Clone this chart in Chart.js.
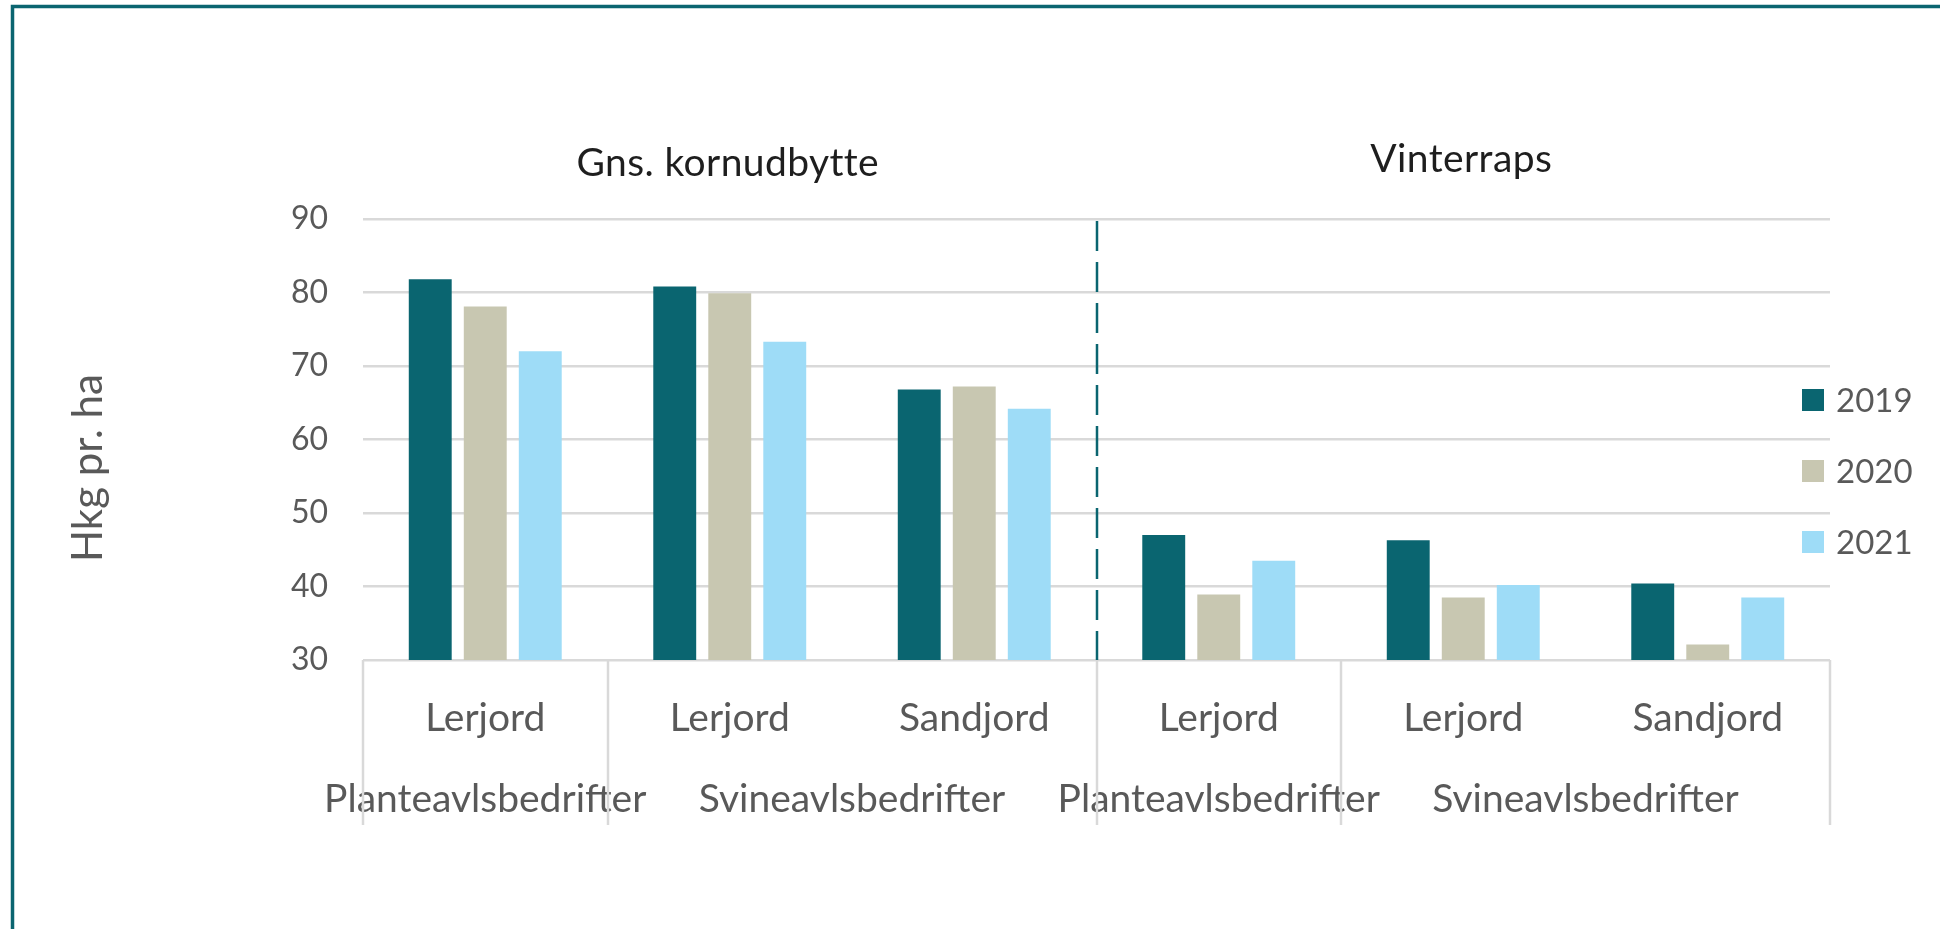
<!DOCTYPE html>
<html>
<head>
<meta charset="utf-8">
<title>Hkg pr. ha</title>
<script src="https://cdn.jsdelivr.net/npm/chart.js@4"></script>
<style>
  html, body { margin: 0; padding: 0; background: #fff; }
  canvas { display: block; }
</style>
</head>
<body>
<canvas id="chart" width="1940" height="929"></canvas>
<script>
// --- DATA ---
const soilLabels = ['Lerjord', 'Lerjord', 'Sandjord', 'Lerjord', 'Lerjord', 'Sandjord'];
const farmLabels = ['Planteavlsbedrifter', 'Svineavlsbedrifter', 'Planteavlsbedrifter', 'Svineavlsbedrifter'];
const farmSpans = [1, 2, 1, 2];          // categories under each farm label
const sectionTitles = ['Gns. kornudbytte', 'Vinterraps'];
const sectionSpans = [3, 3];
const years = ['2019', '2020', '2021'];
const yield2019 = [81.8, 80.8, 66.8, 47.0, 46.3, 40.4];
const yield2020 = [78.1, 79.9, 67.2, 38.9, 38.5, 32.1];
const yield2021 = [72.0, 73.3, 64.2, 43.5, 40.2, 38.5];
const yMin = 30, yMax = 90, yStep = 10;
const yTitle = 'Hkg pr. ha';

// --- STYLE ---
const TEAL = '#0a6570';
const colors = [TEAL, '#c8c7b1', '#9edcf7'];
const GRID = '#d9d9d9';
const TEXT = '#595959';
const FONT = 'Lato';

// centres of the farm groups, in category units
const farmCenters = [];
let acc = 0;
farmSpans.forEach(n => { farmCenters.push(acc + (n - 1) / 2); acc += n; });

// boundaries where the divider lines go
const boundaries = [-0.5];
acc = -0.5;
farmSpans.forEach(n => { acc += n; boundaries.push(acc); });

const decorations = {
    id: 'decorations',
    afterDraw(chart) {
        const ctx = chart.ctx;
        const x = chart.scales.x2;
        const area = chart.chartArea;
        ctx.save();

        // frame (top + left edge)
        ctx.strokeStyle = '#0b6570';
        ctx.lineWidth = 3.5;
        ctx.beginPath();
        ctx.moveTo(12.5, 929);
        ctx.lineTo(12.5, 6.5);
        ctx.lineTo(1940, 6.5);
        ctx.stroke();

        // group dividers under the axis
        ctx.strokeStyle = GRID;
        ctx.lineWidth = 2.5;
        boundaries.forEach(b => {
            const px = Math.round(x.getPixelForValue(b));
            ctx.beginPath();
            ctx.moveTo(px, area.bottom);
            ctx.lineTo(px, 825);
            ctx.stroke();
        });

        // dashed separator between sections
        let s = -0.5;
        ctx.strokeStyle = TEAL;
        ctx.lineWidth = 2.5;
        ctx.setLineDash([30, 11]);
        sectionSpans.slice(0, -1).forEach(n => {
            s += n;
            const px = Math.round(x.getPixelForValue(s));
            ctx.beginPath();
            ctx.moveTo(px, area.top + 2);
            ctx.lineTo(px, area.bottom);
            ctx.stroke();
        });
        ctx.setLineDash([]);

        // section titles
        ctx.fillStyle = '#1e1e1e';
        ctx.font = `39px ${FONT}`;
        ctx.letterSpacing = '0.4px';
        ctx.textAlign = 'center';
        ctx.textBaseline = 'alphabetic';
        const titleBase = [176, 172];
        s = -0.5;
        sectionTitles.forEach((t, i) => {
            const mid = s + sectionSpans[i] / 2;
            s += sectionSpans[i];
            ctx.fillText(t, x.getPixelForValue(mid) - 2, titleBase[i]);
        });
        ctx.letterSpacing = '0px';

        // y axis title
        ctx.fillStyle = TEXT;
        ctx.font = `42px ${FONT}`;
        ctx.translate(88, 468);
        ctx.rotate(-Math.PI / 2);
        ctx.textBaseline = 'middle';
        ctx.fillText(yTitle, 0, 0);
        ctx.setTransform(1, 0, 0, 1, 0, 0);

        // legend
        ctx.font = `33px ${FONT}`;
        ctx.textAlign = 'left';
        chart.data.datasets.forEach((ds, i) => {
            const cy = 400 + i * 71;
            ctx.fillStyle = ds.backgroundColor;
            ctx.fillRect(1802, cy - 11, 22, 22);
            ctx.fillStyle = TEXT;
            ctx.fillText(ds.label, 1836, cy + 1);
        });
        ctx.restore();
    }
};

new Chart(document.getElementById('chart'), {
    type: 'bar',
    data: {
        labels: soilLabels,
        datasets: [
            { label: years[0], data: yield2019, backgroundColor: colors[0] },
            { label: years[1], data: yield2020, backgroundColor: colors[1] },
            { label: years[2], data: yield2021, backgroundColor: colors[2] }
        ]
    },
    options: {
        responsive: false,
        animation: false,
        devicePixelRatio: 1,
        categoryPercentage: 0.675,
        barPercentage: 0.78,
        layout: { padding: { left: 0, right: 110, top: 219, bottom: 0 } },
        plugins: {
            legend: { display: false },
            tooltip: { enabled: false }
        },
        scales: {
            y: {
                min: yMin,
                max: yMax,
                ticks: { stepSize: yStep, padding: 35, color: TEXT, font: { family: FONT, size: 32 } },
                grid: { color: GRID, lineWidth: 2.5, drawTicks: false },
                border: { display: false },
                afterFit(scale) { scale.height; scale.width = 363; }
            },
            x: {
                grid: { display: false },
                border: { display: false },
                ticks: { padding: 27, color: TEXT, maxRotation: 0, autoSkip: false, font: { family: FONT, size: 39 } },
                afterFit(scale) { scale.height = 100; }
            },
            x2: {
                type: 'linear',
                position: 'bottom',
                min: -0.5,
                max: soilLabels.length - 0.5,
                offset: false,
                grid: { display: false },
                border: { display: false },
                afterBuildTicks(scale) { scale.ticks = farmCenters.map(v => ({ value: v })); },
                ticks: {
                    padding: 8,
                    color: TEXT,
                    maxRotation: 0,
                    autoSkip: false,
                    font: { family: FONT, size: 39 },
                    callback: (v, i) => farmLabels[i]
                },
                afterFit(scale) { scale.height = 929 - 660 - 100; }
            }
        }
    },
    plugins: [decorations]
});
</script>
</body>
</html>
